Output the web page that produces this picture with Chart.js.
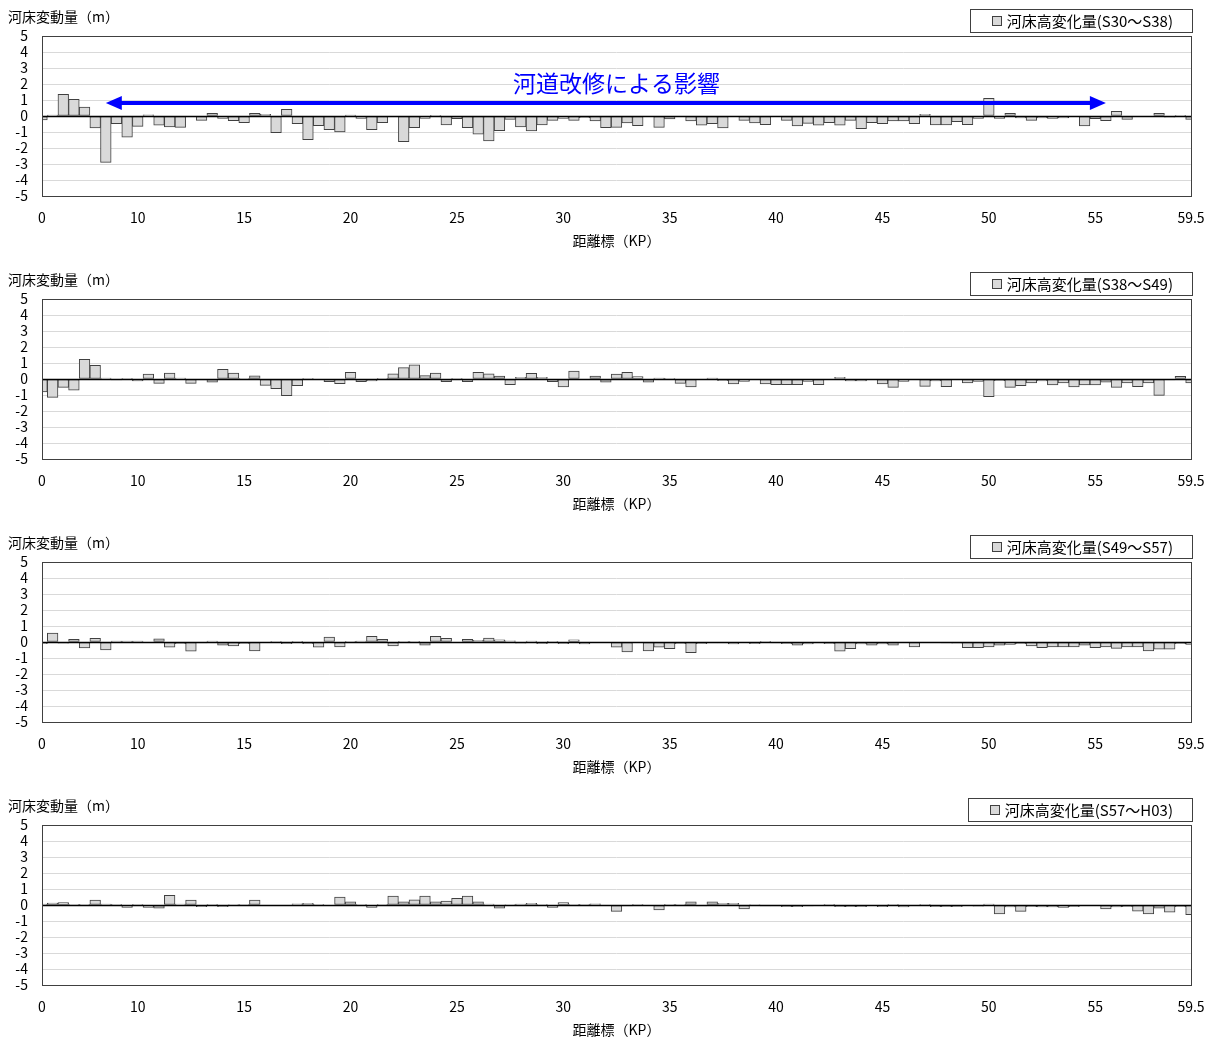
<!DOCTYPE html>
<html lang="ja">
<head>
<meta charset="utf-8">
<title>河床変動量</title>
<script src="https://cdn.jsdelivr.net/npm/chart.js@4.4.1/dist/chart.umd.min.js"></script>
<style>
  html, body { margin: 0; padding: 0; background: #fff; overflow: hidden; }
  .panel { position: absolute; left: 0; width: 1216px; height: 263px; }
</style>
</head>
<body>
<div class="panel" style="top:0px"><canvas id="c1" width="1216" height="263"></canvas></div>
<div class="panel" style="top:263px"><canvas id="c2" width="1216" height="263"></canvas></div>
<div class="panel" style="top:526px"><canvas id="c3" width="1216" height="263"></canvas></div>
<div class="panel" style="top:789px"><canvas id="c4" width="1216" height="263"></canvas></div>
<script>
// 距離標 (category axis)
let kp = [
  "0", "6", "6.5", "7", "7.5", "8", "8.5", "9", "9.5",
  "10", "10.5", "11", "11.5", "12", "12.5", "13", "13.5", "14", "14.5",
  "15", "15.5", "16", "16.5", "17", "17.5", "18", "18.5", "19", "19.5",
  "20", "20.5", "21", "21.5", "22", "22.5", "23", "23.5", "24", "24.5",
  "25", "25.5", "26", "26.5", "27", "27.5", "28", "28.5", "29", "29.5",
  "30", "30.5", "31", "31.5", "32", "32.5", "33", "33.5", "34", "34.5",
  "35", "35.5", "36", "36.5", "37", "37.5", "38", "38.5", "39", "39.5",
  "40", "40.5", "41", "41.5", "42", "42.5", "43", "43.5", "44", "44.5",
  "45", "45.5", "46", "46.5", "47", "47.5", "48", "48.5", "49", "49.5",
  "50", "50.5", "51", "51.5", "52", "52.5", "53", "53.5", "54", "54.5",
  "55", "55.5", "56", "56.5", "57", "57.5", "58", "58.5", "59", "59.5"
];
let tickLabels = ["0", "10", "15", "20", "25", "30", "35", "40", "45", "50", "55", "59.5"];
let periods = ["S30～S38", "S38～S49", "S49～S57", "S57～H03"];

let s30_38 = [
  -0.25, 0.05, 1.35, 1.04, 0.56, -0.75, -2.9, -0.48, -1.33, -0.65,
  0.08, -0.58, -0.69, -0.71, -0.05, -0.27, 0.17, -0.15, -0.29, -0.42,
  0.17, 0.1, -1.04, 0.42, -0.48, -1.48, -0.6, -0.85, -1.0, 0.06,
  -0.15, -0.85, -0.42, -0.05, -1.6, -0.73, -0.15, 0.04, -0.56, -0.17,
  -0.73, -1.13, -1.56, -0.92, -0.21, -0.69, -0.94, -0.56, -0.27, -0.15,
  -0.27, -0.1, -0.31, -0.73, -0.71, -0.44, -0.6, -0.02, -0.71, -0.19,
  -0.03, -0.31, -0.58, -0.48, -0.75, -0.02, -0.27, -0.44, -0.54, -0.04,
  -0.27, -0.62, -0.46, -0.58, -0.42, -0.58, -0.27, -0.79, -0.42, -0.48,
  -0.31, -0.31, -0.48, 0.1, -0.56, -0.56, -0.35, -0.54, -0.15, 1.1,
  -0.15, 0.17, -0.12, -0.27, -0.12, -0.15, -0.12, -0.04, -0.62, -0.17,
  -0.29, 0.29, -0.21, -0.02, -0.03, 0.17, -0.08, 0.04, -0.21
];
let s38_49 = [
  -0.8, -1.15, -0.52, -0.7, 1.23, 0.85, 0.05, -0.05, 0.02, -0.12,
  0.3, -0.27, 0.37, 0.05, -0.27, -0.05, -0.2, 0.6, 0.37, 0.02,
  0.2, -0.4, -0.6, -1.04, -0.42, 0.04, -0.02, -0.17, -0.29, 0.42,
  -0.17, -0.12, 0.04, 0.33, 0.71, 0.88, 0.21, 0.37, -0.17, 0.04,
  -0.17, 0.42, 0.33, 0.19, -0.35, 0.1, 0.35, 0.1, -0.17, -0.5,
  0.5, -0.02, 0.19, -0.2, 0.3, 0.42, 0.15, -0.2, 0.06, 0.04,
  -0.27, -0.5, -0.02, 0.06, -0.1, -0.31, -0.15, -0.04, -0.31, -0.35,
  -0.35, -0.35, -0.15, -0.35, -0.04, 0.1, -0.12, -0.12, -0.02, -0.31,
  -0.52, -0.15, -0.02, -0.46, -0.12, -0.48, -0.04, -0.25, -0.15, -1.1,
  -0.1, -0.52, -0.42, -0.25, -0.12, -0.37, -0.25, -0.5, -0.37, -0.37,
  -0.2, -0.52, -0.25, -0.48, -0.25, -1.02, -0.05, 0.17, -0.25
];
let s49_57 = [
  -0.1, 0.55, -0.08, 0.17, -0.37, 0.23, -0.5, 0.06, 0.06, 0.06,
  -0.02, 0.2, -0.33, -0.1, -0.58, -0.06, 0.05, -0.2, -0.25, -0.1,
  -0.55, -0.02, 0.04, -0.1, 0.02, -0.1, -0.33, 0.3, -0.3, 0.02,
  0.06, 0.35, 0.17, -0.25, 0.04, 0.04, -0.2, 0.35, 0.23, -0.04,
  0.17, 0.1, 0.25, 0.14, 0.08, -0.08, 0.05, -0.1, 0.04, -0.1,
  0.14, -0.12, 0, -0.02, -0.33, -0.62, -0.04, -0.55, -0.33, -0.42,
  -0.1, -0.67, -0.1, -0.06, -0.06, -0.12, -0.04, -0.1, 0.04, -0.06,
  -0.1, -0.2, -0.12, -0.06, -0.1, -0.58, -0.42, -0.12, -0.2, -0.12,
  -0.2, -0.04, -0.3, -0.04, -0.04, -0.06, -0.08, -0.35, -0.35, -0.3,
  -0.2, -0.15, -0.1, -0.25, -0.35, -0.3, -0.3, -0.3, -0.2, -0.35,
  -0.3, -0.4, -0.3, -0.3, -0.55, -0.45, -0.45, -0.1, -0.15
];
let s57_h03 = [
  0.06, 0.12, 0.15, 0.02, 0.02, 0.3, 0.06, 0.02, -0.15, 0.02,
  -0.15, -0.2, 0.6, 0.05, 0.3, -0.1, 0.02, -0.1, 0.03, 0.02,
  0.3, -0.04, -0.04, -0.04, 0.08, 0.1, 0.02, 0, 0.5, 0.2,
  0.02, -0.15, 0.02, 0.55, 0.2, 0.33, 0.55, 0.2, 0.25, 0.42,
  0.55, 0.2, 0.05, -0.2, 0.03, 0.06, 0.1, 0.02, -0.15, 0.15,
  0.02, 0.02, 0.08, -0.02, -0.4, -0.05, 0.02, -0.02, -0.3, 0.02,
  0.02, 0.2, -0.05, 0.2, 0.1, 0.1, -0.25, 0.03, -0.05, -0.05,
  -0.1, -0.1, -0.05, -0.02, 0.02, -0.1, -0.1, -0.1, -0.02, -0.1,
  0.02, -0.12, -0.02, 0.02, -0.1, -0.1, -0.1, -0.02, -0.08, 0.05,
  -0.55, -0.12, -0.4, -0.1, -0.12, -0.12, -0.15, -0.1, -0.02, -0.02,
  -0.25, -0.12, -0.1, -0.38, -0.55, -0.2, -0.45, -0.1, -0.6
];

// 河道改修 annotation (panel 1)
let noteText = "河道改修による影響";
let arrowFrom = "8.5";
let arrowTo = "55.5";
let arrowLevel = 0.82;
let noteLevel = 2.05;

const font = '"Noto Sans CJK JP", "Noto Sans", sans-serif';
Chart.defaults.font.family = font;
Chart.defaults.font.size = 14;
Chart.defaults.color = "#000";

// frame, zero line, legend box, axis caption, arrow
const frame = {
  id: "frame",
  afterDatasetsDraw(chart) {
    const { ctx, chartArea: a, scales: { y } } = chart;
    const y0 = Math.round(y.getPixelForValue(0)) + 0.5;
    ctx.save();
    ctx.strokeStyle = "#000";
    ctx.lineWidth = 1.5;
    ctx.beginPath();
    ctx.moveTo(a.left, y0);
    ctx.lineTo(a.right, y0);
    ctx.stroke();
    ctx.restore();
  },
  afterDraw(chart, args, opts) {
    const { ctx, chartArea: a, scales: { x, y } } = chart;
    ctx.save();
    ctx.strokeStyle = "#404040";
    ctx.lineWidth = 1;
    ctx.strokeRect(Math.round(a.left) + 0.5, Math.round(a.top) + 0.5,
      Math.round(a.width), Math.round(a.height));

    // y caption
    ctx.fillStyle = "#000";
    ctx.font = "14px " + font;
    ctx.textBaseline = "middle";
    ctx.textAlign = "left";
    ctx.fillText("河床変動量（m）", 8, a.top - 19);

    // legend
    ctx.font = "15px " + font;
    const text = chart.data.datasets[0].label;
    const tw = ctx.measureText(text).width;
    const right = Math.round(a.right) + 1;
    const top = Math.round(a.top) - 27;
    const h = 23;
    const tx = right - 19 - tw;
    const boxL = Math.round(tx - 37);
    ctx.strokeStyle = "#404040";
    ctx.strokeRect(boxL + 0.5, top + 0.5, right - boxL, h);
    ctx.fillStyle = "#d9d9d9";
    ctx.fillRect(Math.round(tx - 15), top + 7, 9, 9);
    ctx.strokeRect(Math.round(tx - 15) + 0.5, top + 7.5, 9, 9);
    ctx.fillStyle = "#000";
    ctx.fillText(text, tx, top + h / 2 + 1);

    if (opts.note) {
      const ya = y.getPixelForValue(arrowLevel);
      const xl = x.getPixelForValue(kp.indexOf(arrowFrom));
      const xr = x.getPixelForValue(kp.indexOf(arrowTo));
      ctx.fillStyle = "#0000ff";
      ctx.strokeStyle = "#0000ff";
      ctx.lineWidth = 4;
      ctx.beginPath();
      ctx.moveTo(xl + 12, ya);
      ctx.lineTo(xr - 12, ya);
      ctx.stroke();
      ctx.beginPath();
      ctx.moveTo(xl, ya);
      ctx.lineTo(xl + 16, ya - 7);
      ctx.lineTo(xl + 16, ya + 7);
      ctx.closePath();
      ctx.fill();
      ctx.beginPath();
      ctx.moveTo(xr, ya);
      ctx.lineTo(xr - 16, ya - 7);
      ctx.lineTo(xr - 16, ya + 7);
      ctx.closePath();
      ctx.fill();
      ctx.font = "23px " + font;
      ctx.textAlign = "center";
      ctx.fillText(noteText, (a.left + a.right) / 2, y.getPixelForValue(noteLevel));
    }
    ctx.restore();
  }
};

let panels = [
  { id: "c1", period: periods[0], values: s30_38, note: true },
  { id: "c2", period: periods[1], values: s38_49, note: false },
  { id: "c3", period: periods[2], values: s49_57, note: false },
  { id: "c4", period: periods[3], values: s57_h03, note: false }
];

panels.forEach(function (p) {
  new Chart(p.id, {
    type: "bar",
    data: {
      labels: kp,
      datasets: [{
        label: "河床高変化量(" + p.period + ")",
        data: p.values,
        backgroundColor: "#d9d9d9",
        borderColor: "#404040",
        borderWidth: 1,
        borderSkipped: false,
        barPercentage: 1,
        categoryPercentage: 1,
        clip: 0
      }]
    },
    options: {
      responsive: false,
      animation: false,
      devicePixelRatio: 1,
      layout: { padding: { top: 36, right: 25, bottom: 0, left: 0 } },
      plugins: {
        legend: { display: false },
        tooltip: { enabled: false },
        frame: { note: p.note }
      },
      scales: {
        x: {
          type: "category",
          offset: false,
          grid: { display: false, drawTicks: false },
          border: { display: false },
          ticks: {
            autoSkip: false,
            maxRotation: 0,
            padding: 13,
            callback: function (v, i) {
              return tickLabels.includes(kp[i]) ? kp[i] : null;
            }
          },
          title: {
            display: true,
            text: "距離標（KP）",
            padding: { top: 0, bottom: 14 }
          },
          afterFit: function (s) {
            s.height = 67;
            s.paddingLeft = 0;
            s.paddingRight = 0;
          }
        },
        y: {
          min: -5,
          max: 5,
          ticks: { stepSize: 1, padding: 14, autoSkip: false },
          grid: { color: "#d9d9d9", drawTicks: false },
          border: { display: false },
          afterFit: function (s) { s.width = 42; }
        }
      }
    },
    plugins: [frame]
  });
});
</script>
</body>
</html>
